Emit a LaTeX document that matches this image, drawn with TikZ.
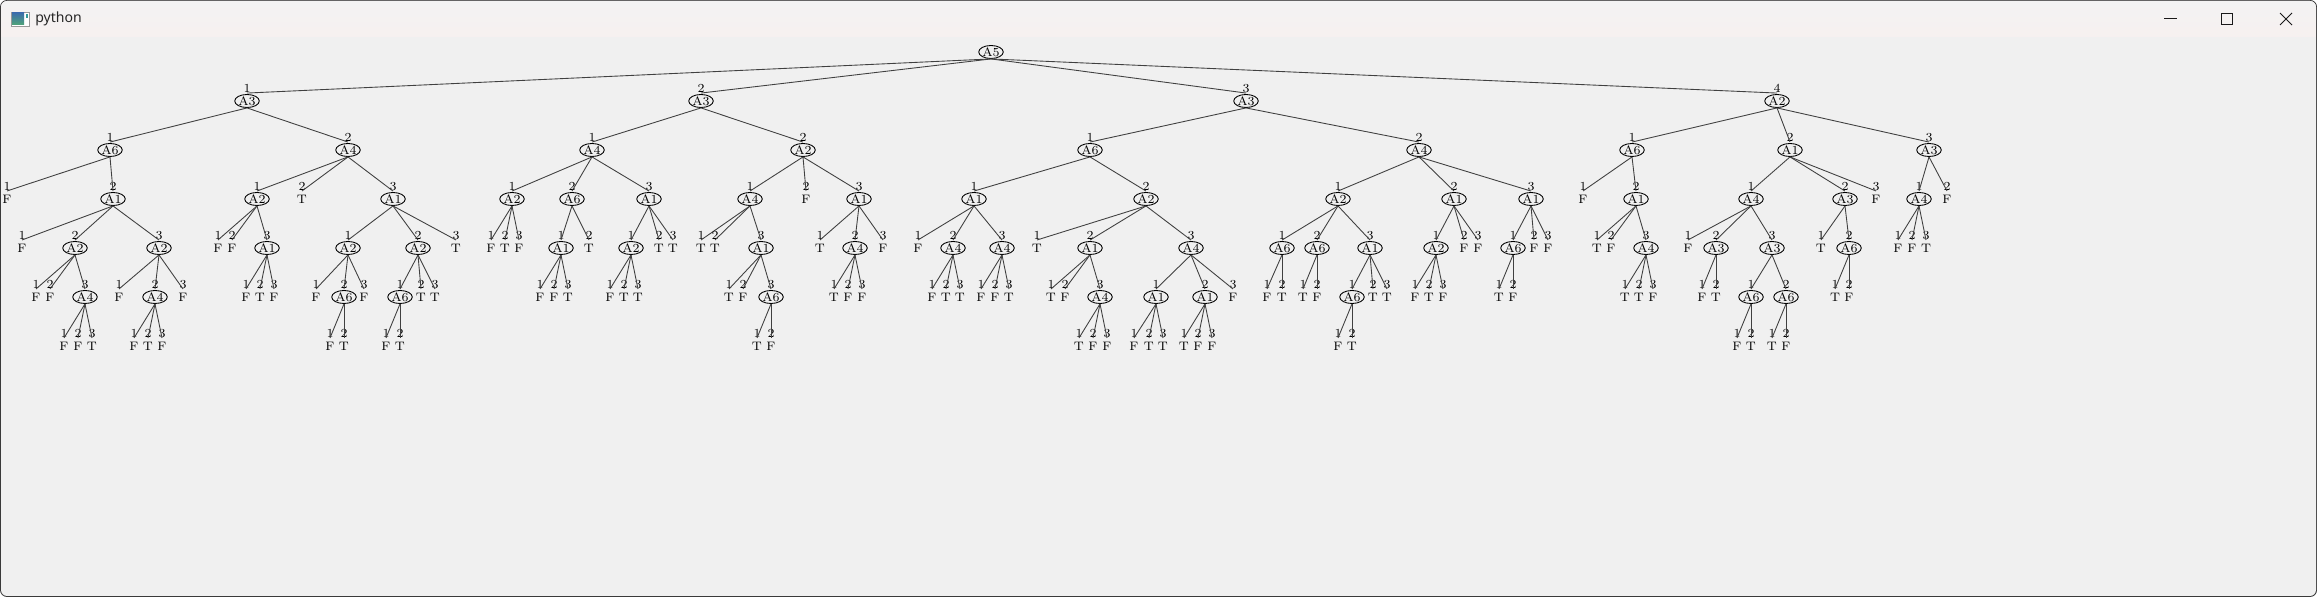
\documentclass[tikz,border=0pt]{standalone}
\usepackage{fontspec}
\newfontfamily\winfont{Noto Sans}
\usetikzlibrary{positioning, shapes.geometric}

\definecolor{winbg}{HTML}{F0F0F0}
\definecolor{titletop}{HTML}{F3F3F3}
\definecolor{titlebot}{HTML}{F7F0EF}
\definecolor{frame}{HTML}{3A3A3A}

\begin{document}
\begin{tikzpicture}[x=0.02cm, y=-0.02cm,
  att/.style={draw=black, line width=0.5pt, ellipse, inner sep=0pt,
    minimum width=0.42cm, minimum height=0.26cm, font=\fontsize{7}{8}\selectfont},
  num/.style={inner sep=0pt, font=\fontsize{7}{8}\selectfont},
  val/.style={inner sep=0pt, font=\fontsize{7}{8}\selectfont},
  edge/.style={draw=black!75, line width=0.5pt}]

\useasboundingbox (0,0) rectangle (2317,597);

% window
\fill[frame, rounded corners=4pt] (0,0) rectangle (2317,597);
\fill[winbg, rounded corners=3.5pt] (1,1) rectangle (2316,596);
\shade[top color=titletop, bottom color=titlebot, rounded corners=3.5pt] (1,1) rectangle (2316,42);
\fill[winbg] (1,37) rectangle (2316,42);

\draw[black!40, fill=white, line width=0.4pt] (11,12) rectangle (29,26);
\shade[top color={rgb,255:red,60;green,110;blue,170}, bottom color={rgb,255:red,80;green,165;blue,120}] (12,13) rectangle (24,25);
\fill[teal!80] (26,14) rectangle (27.5,18);
\node[anchor=west, inner sep=0pt, font=\winfont\fontsize{8}{9}\selectfont, text=black!85] (title) at (35,19) {python};

\draw[black!90, line width=0.5pt] (2164,18) -- (2177,18);
\draw[black!90, line width=0.5pt] (2221,13) rectangle (2232,24);
\draw[black!90, line width=0.5pt] (2280,13) -- (2292,25) (2280,25) -- (2292,13);

% tree
\node[att] (R) at (991,52) {A5};

\node[att] (R1) at (247,101) {A3}; \node[num, above=0.02cm of R1] (R1n) {1}; \draw[edge] (R.south) -- (R1n.south);
\node[att] (R11) at (110,150) {A6}; \node[num, above=0.02cm of R11] (R11n) {1}; \draw[edge] (R1.south) -- (R11n.south);
\node[val] (R111) at (7,199) {F}; \node[num, above=0.07cm of R111] (R111n) {1}; \draw[edge] (R11.south) -- (R111n.south);
\node[att] (R112) at (113,199) {A1}; \node[num, above=0.02cm of R112] (R112n) {2}; \draw[edge] (R11.south) -- (R112n.south);
\node[val] (R1121) at (22,248) {F}; \node[num, above=0.07cm of R1121] (R1121n) {1}; \draw[edge] (R112.south) -- (R1121n.south);
\node[att] (R1122) at (75,248) {A2}; \node[num, above=0.02cm of R1122] (R1122n) {2}; \draw[edge] (R112.south) -- (R1122n.south);
\node[val] (R11221) at (36,297) {F}; \node[num, above=0.07cm of R11221] (R11221n) {1}; \draw[edge] (R1122.south) -- (R11221n.south);
\node[val] (R11222) at (50,297) {F}; \node[num, above=0.07cm of R11222] (R11222n) {2}; \draw[edge] (R1122.south) -- (R11222n.south);
\node[att] (R11223) at (85,297) {A4}; \node[num, above=0.02cm of R11223] (R11223n) {3}; \draw[edge] (R1122.south) -- (R11223n.south);
\node[val] (R112231) at (64,346) {F}; \node[num, above=0.07cm of R112231] (R112231n) {1}; \draw[edge] (R11223.south) -- (R112231n.south);
\node[val] (R112232) at (78,346) {F}; \node[num, above=0.07cm of R112232] (R112232n) {2}; \draw[edge] (R11223.south) -- (R112232n.south);
\node[val] (R112233) at (92,346) {T}; \node[num, above=0.07cm of R112233] (R112233n) {3}; \draw[edge] (R11223.south) -- (R112233n.south);
\node[att] (R1123) at (159,248) {A2}; \node[num, above=0.02cm of R1123] (R1123n) {3}; \draw[edge] (R112.south) -- (R1123n.south);
\node[val] (R11231) at (119,297) {F}; \node[num, above=0.07cm of R11231] (R11231n) {1}; \draw[edge] (R1123.south) -- (R11231n.south);
\node[att] (R11232) at (155,297) {A4}; \node[num, above=0.02cm of R11232] (R11232n) {2}; \draw[edge] (R1123.south) -- (R11232n.south);
\node[val] (R112321) at (134,346) {F}; \node[num, above=0.07cm of R112321] (R112321n) {1}; \draw[edge] (R11232.south) -- (R112321n.south);
\node[val] (R112322) at (148,346) {T}; \node[num, above=0.07cm of R112322] (R112322n) {2}; \draw[edge] (R11232.south) -- (R112322n.south);
\node[val] (R112323) at (162,346) {F}; \node[num, above=0.07cm of R112323] (R112323n) {3}; \draw[edge] (R11232.south) -- (R112323n.south);
\node[val] (R11233) at (183,297) {F}; \node[num, above=0.07cm of R11233] (R11233n) {3}; \draw[edge] (R1123.south) -- (R11233n.south);
\node[att] (R12) at (348,150) {A4}; \node[num, above=0.02cm of R12] (R12n) {2}; \draw[edge] (R1.south) -- (R12n.south);
\node[att] (R121) at (257,199) {A2}; \node[num, above=0.02cm of R121] (R121n) {1}; \draw[edge] (R12.south) -- (R121n.south);
\node[val] (R1211) at (218,248) {F}; \node[num, above=0.07cm of R1211] (R1211n) {1}; \draw[edge] (R121.south) -- (R1211n.south);
\node[val] (R1212) at (232,248) {F}; \node[num, above=0.07cm of R1212] (R1212n) {2}; \draw[edge] (R121.south) -- (R1212n.south);
\node[att] (R1213) at (267,248) {A1}; \node[num, above=0.02cm of R1213] (R1213n) {3}; \draw[edge] (R121.south) -- (R1213n.south);
\node[val] (R12131) at (246,297) {F}; \node[num, above=0.07cm of R12131] (R12131n) {1}; \draw[edge] (R1213.south) -- (R12131n.south);
\node[val] (R12132) at (260,297) {T}; \node[num, above=0.07cm of R12132] (R12132n) {2}; \draw[edge] (R1213.south) -- (R12132n.south);
\node[val] (R12133) at (274,297) {F}; \node[num, above=0.07cm of R12133] (R12133n) {3}; \draw[edge] (R1213.south) -- (R12133n.south);
\node[val] (R122) at (302,199) {T}; \node[num, above=0.07cm of R122] (R122n) {2}; \draw[edge] (R12.south) -- (R122n.south);
\node[att] (R123) at (393,199) {A1}; \node[num, above=0.02cm of R123] (R123n) {3}; \draw[edge] (R12.south) -- (R123n.south);
\node[att] (R1231) at (348,248) {A2}; \node[num, above=0.02cm of R1231] (R1231n) {1}; \draw[edge] (R123.south) -- (R1231n.south);
\node[val] (R12311) at (316,297) {F}; \node[num, above=0.07cm of R12311] (R12311n) {1}; \draw[edge] (R1231.south) -- (R12311n.south);
\node[att] (R12312) at (344,297) {A6}; \node[num, above=0.02cm of R12312] (R12312n) {2}; \draw[edge] (R1231.south) -- (R12312n.south);
\node[val] (R123121) at (330,346) {F}; \node[num, above=0.07cm of R123121] (R123121n) {1}; \draw[edge] (R12312.south) -- (R123121n.south);
\node[val] (R123122) at (344,346) {T}; \node[num, above=0.07cm of R123122] (R123122n) {2}; \draw[edge] (R12312.south) -- (R123122n.south);
\node[val] (R12313) at (364,297) {F}; \node[num, above=0.07cm of R12313] (R12313n) {3}; \draw[edge] (R1231.south) -- (R12313n.south);
\node[att] (R1232) at (418,248) {A2}; \node[num, above=0.02cm of R1232] (R1232n) {2}; \draw[edge] (R123.south) -- (R1232n.south);
\node[att] (R12321) at (400,297) {A6}; \node[num, above=0.02cm of R12321] (R12321n) {1}; \draw[edge] (R1232.south) -- (R12321n.south);
\node[val] (R123211) at (386,346) {F}; \node[num, above=0.07cm of R123211] (R123211n) {1}; \draw[edge] (R12321.south) -- (R123211n.south);
\node[val] (R123212) at (400,346) {T}; \node[num, above=0.07cm of R123212] (R123212n) {2}; \draw[edge] (R12321.south) -- (R123212n.south);
\node[val] (R12322) at (421,297) {T}; \node[num, above=0.07cm of R12322] (R12322n) {2}; \draw[edge] (R1232.south) -- (R12322n.south);
\node[val] (R12323) at (435,297) {T}; \node[num, above=0.07cm of R12323] (R12323n) {3}; \draw[edge] (R1232.south) -- (R12323n.south);
\node[val] (R1233) at (456,248) {T}; \node[num, above=0.07cm of R1233] (R1233n) {3}; \draw[edge] (R123.south) -- (R1233n.south);

\node[att] (R2) at (701,101) {A3}; \node[num, above=0.02cm of R2] (R2n) {2}; \draw[edge] (R.south) -- (R2n.south);
\node[att] (R21) at (592,150) {A4}; \node[num, above=0.02cm of R21] (R21n) {1}; \draw[edge] (R2.south) -- (R21n.south);
\node[att] (R211) at (512,199) {A2}; \node[num, above=0.02cm of R211] (R211n) {1}; \draw[edge] (R21.south) -- (R211n.south);
\node[val] (R2111) at (491,248) {F}; \node[num, above=0.07cm of R2111] (R2111n) {1}; \draw[edge] (R211.south) -- (R2111n.south);
\node[val] (R2112) at (505,248) {T}; \node[num, above=0.07cm of R2112] (R2112n) {2}; \draw[edge] (R211.south) -- (R2112n.south);
\node[val] (R2113) at (519,248) {F}; \node[num, above=0.07cm of R2113] (R2113n) {3}; \draw[edge] (R211.south) -- (R2113n.south);
\node[att] (R212) at (572,199) {A6}; \node[num, above=0.02cm of R212] (R212n) {2}; \draw[edge] (R21.south) -- (R212n.south);
\node[att] (R2121) at (561,248) {A1}; \node[num, above=0.02cm of R2121] (R2121n) {1}; \draw[edge] (R212.south) -- (R2121n.south);
\node[val] (R21211) at (540,297) {F}; \node[num, above=0.07cm of R21211] (R21211n) {1}; \draw[edge] (R2121.south) -- (R21211n.south);
\node[val] (R21212) at (554,297) {F}; \node[num, above=0.07cm of R21212] (R21212n) {2}; \draw[edge] (R2121.south) -- (R21212n.south);
\node[val] (R21213) at (568,297) {T}; \node[num, above=0.07cm of R21213] (R21213n) {3}; \draw[edge] (R2121.south) -- (R21213n.south);
\node[val] (R2122) at (589,248) {T}; \node[num, above=0.07cm of R2122] (R2122n) {2}; \draw[edge] (R212.south) -- (R2122n.south);
\node[att] (R213) at (649,199) {A1}; \node[num, above=0.02cm of R213] (R213n) {3}; \draw[edge] (R21.south) -- (R213n.south);
\node[att] (R2131) at (631,248) {A2}; \node[num, above=0.02cm of R2131] (R2131n) {1}; \draw[edge] (R213.south) -- (R2131n.south);
\node[val] (R21311) at (610,297) {F}; \node[num, above=0.07cm of R21311] (R21311n) {1}; \draw[edge] (R2131.south) -- (R21311n.south);
\node[val] (R21312) at (624,297) {T}; \node[num, above=0.07cm of R21312] (R21312n) {2}; \draw[edge] (R2131.south) -- (R21312n.south);
\node[val] (R21313) at (638,297) {T}; \node[num, above=0.07cm of R21313] (R21313n) {3}; \draw[edge] (R2131.south) -- (R21313n.south);
\node[val] (R2132) at (659,248) {T}; \node[num, above=0.07cm of R2132] (R2132n) {2}; \draw[edge] (R213.south) -- (R2132n.south);
\node[val] (R2133) at (673,248) {T}; \node[num, above=0.07cm of R2133] (R2133n) {3}; \draw[edge] (R213.south) -- (R2133n.south);
\node[att] (R22) at (803,150) {A2}; \node[num, above=0.02cm of R22] (R22n) {2}; \draw[edge] (R2.south) -- (R22n.south);
\node[att] (R221) at (750,199) {A4}; \node[num, above=0.02cm of R221] (R221n) {1}; \draw[edge] (R22.south) -- (R221n.south);
\node[val] (R2211) at (701,248) {T}; \node[num, above=0.07cm of R2211] (R2211n) {1}; \draw[edge] (R221.south) -- (R2211n.south);
\node[val] (R2212) at (715,248) {T}; \node[num, above=0.07cm of R2212] (R2212n) {2}; \draw[edge] (R221.south) -- (R2212n.south);
\node[att] (R2213) at (761,248) {A1}; \node[num, above=0.02cm of R2213] (R2213n) {3}; \draw[edge] (R221.south) -- (R2213n.south);
\node[val] (R22131) at (729,297) {T}; \node[num, above=0.07cm of R22131] (R22131n) {1}; \draw[edge] (R2213.south) -- (R22131n.south);
\node[val] (R22132) at (743,297) {F}; \node[num, above=0.07cm of R22132] (R22132n) {2}; \draw[edge] (R2213.south) -- (R22132n.south);
\node[att] (R22133) at (771,297) {A6}; \node[num, above=0.02cm of R22133] (R22133n) {3}; \draw[edge] (R2213.south) -- (R22133n.south);
\node[val] (R221331) at (757,346) {T}; \node[num, above=0.07cm of R221331] (R221331n) {1}; \draw[edge] (R22133.south) -- (R221331n.south);
\node[val] (R221332) at (771,346) {F}; \node[num, above=0.07cm of R221332] (R221332n) {2}; \draw[edge] (R22133.south) -- (R221332n.south);
\node[val] (R222) at (806,199) {F}; \node[num, above=0.07cm of R222] (R222n) {2}; \draw[edge] (R22.south) -- (R222n.south);
\node[att] (R223) at (859,199) {A1}; \node[num, above=0.02cm of R223] (R223n) {3}; \draw[edge] (R22.south) -- (R223n.south);
\node[val] (R2231) at (820,248) {T}; \node[num, above=0.07cm of R2231] (R2231n) {1}; \draw[edge] (R223.south) -- (R2231n.south);
\node[att] (R2232) at (855,248) {A4}; \node[num, above=0.02cm of R2232] (R2232n) {2}; \draw[edge] (R223.south) -- (R2232n.south);
\node[val] (R22321) at (834,297) {T}; \node[num, above=0.07cm of R22321] (R22321n) {1}; \draw[edge] (R2232.south) -- (R22321n.south);
\node[val] (R22322) at (848,297) {F}; \node[num, above=0.07cm of R22322] (R22322n) {2}; \draw[edge] (R2232.south) -- (R22322n.south);
\node[val] (R22323) at (862,297) {F}; \node[num, above=0.07cm of R22323] (R22323n) {3}; \draw[edge] (R2232.south) -- (R22323n.south);
\node[val] (R2233) at (883,248) {F}; \node[num, above=0.07cm of R2233] (R2233n) {3}; \draw[edge] (R223.south) -- (R2233n.south);

\node[att] (R3) at (1246,101) {A3}; \node[num, above=0.02cm of R3] (R3n) {3}; \draw[edge] (R.south) -- (R3n.south);
\node[att] (R31) at (1090,150) {A6}; \node[num, above=0.02cm of R31] (R31n) {1}; \draw[edge] (R3.south) -- (R31n.south);
\node[att] (R311) at (974,199) {A1}; \node[num, above=0.02cm of R311] (R311n) {1}; \draw[edge] (R31.south) -- (R311n.south);
\node[val] (R3111) at (918,248) {F}; \node[num, above=0.07cm of R3111] (R3111n) {1}; \draw[edge] (R311.south) -- (R3111n.south);
\node[att] (R3112) at (953,248) {A4}; \node[num, above=0.02cm of R3112] (R3112n) {2}; \draw[edge] (R311.south) -- (R3112n.south);
\node[val] (R31121) at (932,297) {F}; \node[num, above=0.07cm of R31121] (R31121n) {1}; \draw[edge] (R3112.south) -- (R31121n.south);
\node[val] (R31122) at (946,297) {T}; \node[num, above=0.07cm of R31122] (R31122n) {2}; \draw[edge] (R3112.south) -- (R31122n.south);
\node[val] (R31123) at (960,297) {T}; \node[num, above=0.07cm of R31123] (R31123n) {3}; \draw[edge] (R3112.south) -- (R31123n.south);
\node[att] (R3113) at (1002,248) {A4}; \node[num, above=0.02cm of R3113] (R3113n) {3}; \draw[edge] (R311.south) -- (R3113n.south);
\node[val] (R31131) at (981,297) {F}; \node[num, above=0.07cm of R31131] (R31131n) {1}; \draw[edge] (R3113.south) -- (R31131n.south);
\node[val] (R31132) at (995,297) {F}; \node[num, above=0.07cm of R31132] (R31132n) {2}; \draw[edge] (R3113.south) -- (R31132n.south);
\node[val] (R31133) at (1009,297) {T}; \node[num, above=0.07cm of R31133] (R31133n) {3}; \draw[edge] (R3113.south) -- (R31133n.south);
\node[att] (R312) at (1146,199) {A2}; \node[num, above=0.02cm of R312] (R312n) {2}; \draw[edge] (R31.south) -- (R312n.south);
\node[val] (R3121) at (1037,248) {T}; \node[num, above=0.07cm of R3121] (R3121n) {1}; \draw[edge] (R312.south) -- (R3121n.south);
\node[att] (R3122) at (1090,248) {A1}; \node[num, above=0.02cm of R3122] (R3122n) {2}; \draw[edge] (R312.south) -- (R3122n.south);
\node[val] (R31221) at (1051,297) {T}; \node[num, above=0.07cm of R31221] (R31221n) {1}; \draw[edge] (R3122.south) -- (R31221n.south);
\node[val] (R31222) at (1065,297) {F}; \node[num, above=0.07cm of R31222] (R31222n) {2}; \draw[edge] (R3122.south) -- (R31222n.south);
\node[att] (R31223) at (1100,297) {A4}; \node[num, above=0.02cm of R31223] (R31223n) {3}; \draw[edge] (R3122.south) -- (R31223n.south);
\node[val] (R312231) at (1079,346) {T}; \node[num, above=0.07cm of R312231] (R312231n) {1}; \draw[edge] (R31223.south) -- (R312231n.south);
\node[val] (R312232) at (1093,346) {F}; \node[num, above=0.07cm of R312232] (R312232n) {2}; \draw[edge] (R31223.south) -- (R312232n.south);
\node[val] (R312233) at (1107,346) {F}; \node[num, above=0.07cm of R312233] (R312233n) {3}; \draw[edge] (R31223.south) -- (R312233n.south);
\node[att] (R3123) at (1191,248) {A4}; \node[num, above=0.02cm of R3123] (R3123n) {3}; \draw[edge] (R312.south) -- (R3123n.south);
\node[att] (R31231) at (1156,297) {A1}; \node[num, above=0.02cm of R31231] (R31231n) {1}; \draw[edge] (R3123.south) -- (R31231n.south);
\node[val] (R312311) at (1134,346) {F}; \node[num, above=0.07cm of R312311] (R312311n) {1}; \draw[edge] (R31231.south) -- (R312311n.south);
\node[val] (R312312) at (1149,346) {T}; \node[num, above=0.07cm of R312312] (R312312n) {2}; \draw[edge] (R31231.south) -- (R312312n.south);
\node[val] (R312313) at (1163,346) {T}; \node[num, above=0.07cm of R312313] (R312313n) {3}; \draw[edge] (R31231.south) -- (R312313n.south);
\node[att] (R31232) at (1205,297) {A1}; \node[num, above=0.02cm of R31232] (R31232n) {2}; \draw[edge] (R3123.south) -- (R31232n.south);
\node[val] (R312321) at (1184,346) {T}; \node[num, above=0.07cm of R312321] (R312321n) {1}; \draw[edge] (R31232.south) -- (R312321n.south);
\node[val] (R312322) at (1198,346) {F}; \node[num, above=0.07cm of R312322] (R312322n) {2}; \draw[edge] (R31232.south) -- (R312322n.south);
\node[val] (R312323) at (1212,346) {F}; \node[num, above=0.07cm of R312323] (R312323n) {3}; \draw[edge] (R31232.south) -- (R312323n.south);
\node[val] (R31233) at (1233,297) {F}; \node[num, above=0.07cm of R31233] (R31233n) {3}; \draw[edge] (R3123.south) -- (R31233n.south);
\node[att] (R32) at (1419,150) {A4}; \node[num, above=0.02cm of R32] (R32n) {2}; \draw[edge] (R3.south) -- (R32n.south);
\node[att] (R321) at (1338,199) {A2}; \node[num, above=0.02cm of R321] (R321n) {1}; \draw[edge] (R32.south) -- (R321n.south);
\node[att] (R3211) at (1282,248) {A6}; \node[num, above=0.02cm of R3211] (R3211n) {1}; \draw[edge] (R321.south) -- (R3211n.south);
\node[val] (R32111) at (1267,297) {F}; \node[num, above=0.07cm of R32111] (R32111n) {1}; \draw[edge] (R3211.south) -- (R32111n.south);
\node[val] (R32112) at (1282,297) {T}; \node[num, above=0.07cm of R32112] (R32112n) {2}; \draw[edge] (R3211.south) -- (R32112n.south);
\node[att] (R3212) at (1317,248) {A6}; \node[num, above=0.02cm of R3212] (R3212n) {2}; \draw[edge] (R321.south) -- (R3212n.south);
\node[val] (R32121) at (1303,297) {T}; \node[num, above=0.07cm of R32121] (R32121n) {1}; \draw[edge] (R3212.south) -- (R32121n.south);
\node[val] (R32122) at (1317,297) {F}; \node[num, above=0.07cm of R32122] (R32122n) {2}; \draw[edge] (R3212.south) -- (R32122n.south);
\node[att] (R3213) at (1370,248) {A1}; \node[num, above=0.02cm of R3213] (R3213n) {3}; \draw[edge] (R321.south) -- (R3213n.south);
\node[att] (R32131) at (1352,297) {A6}; \node[num, above=0.02cm of R32131] (R32131n) {1}; \draw[edge] (R3213.south) -- (R32131n.south);
\node[val] (R321311) at (1338,346) {F}; \node[num, above=0.07cm of R321311] (R321311n) {1}; \draw[edge] (R32131.south) -- (R321311n.south);
\node[val] (R321312) at (1352,346) {T}; \node[num, above=0.07cm of R321312] (R321312n) {2}; \draw[edge] (R32131.south) -- (R321312n.south);
\node[val] (R32132) at (1373,297) {T}; \node[num, above=0.07cm of R32132] (R32132n) {2}; \draw[edge] (R3213.south) -- (R32132n.south);
\node[val] (R32133) at (1387,297) {T}; \node[num, above=0.07cm of R32133] (R32133n) {3}; \draw[edge] (R3213.south) -- (R32133n.south);
\node[att] (R322) at (1454,199) {A1}; \node[num, above=0.02cm of R322] (R322n) {2}; \draw[edge] (R32.south) -- (R322n.south);
\node[att] (R3221) at (1436,248) {A2}; \node[num, above=0.02cm of R3221] (R3221n) {1}; \draw[edge] (R322.south) -- (R3221n.south);
\node[val] (R32211) at (1415,297) {F}; \node[num, above=0.07cm of R32211] (R32211n) {1}; \draw[edge] (R3221.south) -- (R32211n.south);
\node[val] (R32212) at (1429,297) {T}; \node[num, above=0.07cm of R32212] (R32212n) {2}; \draw[edge] (R3221.south) -- (R32212n.south);
\node[val] (R32213) at (1443,297) {F}; \node[num, above=0.07cm of R32213] (R32213n) {3}; \draw[edge] (R3221.south) -- (R32213n.south);
\node[val] (R3222) at (1464,248) {F}; \node[num, above=0.07cm of R3222] (R3222n) {2}; \draw[edge] (R322.south) -- (R3222n.south);
\node[val] (R3223) at (1478,248) {F}; \node[num, above=0.07cm of R3223] (R3223n) {3}; \draw[edge] (R322.south) -- (R3223n.south);
\node[att] (R323) at (1531,199) {A1}; \node[num, above=0.02cm of R323] (R323n) {3}; \draw[edge] (R32.south) -- (R323n.south);
\node[att] (R3231) at (1513,248) {A6}; \node[num, above=0.02cm of R3231] (R3231n) {1}; \draw[edge] (R323.south) -- (R3231n.south);
\node[val] (R32311) at (1499,297) {T}; \node[num, above=0.07cm of R32311] (R32311n) {1}; \draw[edge] (R3231.south) -- (R32311n.south);
\node[val] (R32312) at (1513,297) {F}; \node[num, above=0.07cm of R32312] (R32312n) {2}; \draw[edge] (R3231.south) -- (R32312n.south);
\node[val] (R3232) at (1534,248) {F}; \node[num, above=0.07cm of R3232] (R3232n) {2}; \draw[edge] (R323.south) -- (R3232n.south);
\node[val] (R3233) at (1548,248) {F}; \node[num, above=0.07cm of R3233] (R3233n) {3}; \draw[edge] (R323.south) -- (R3233n.south);

\node[att] (R4) at (1777,101) {A2}; \node[num, above=0.02cm of R4] (R4n) {4}; \draw[edge] (R.south) -- (R4n.south);
\node[att] (R41) at (1632,150) {A6}; \node[num, above=0.02cm of R41] (R41n) {1}; \draw[edge] (R4.south) -- (R41n.south);
\node[val] (R411) at (1583,199) {F}; \node[num, above=0.07cm of R411] (R411n) {1}; \draw[edge] (R41.south) -- (R411n.south);
\node[att] (R412) at (1636,199) {A1}; \node[num, above=0.02cm of R412] (R412n) {2}; \draw[edge] (R41.south) -- (R412n.south);
\node[val] (R4121) at (1597,248) {T}; \node[num, above=0.07cm of R4121] (R4121n) {1}; \draw[edge] (R412.south) -- (R4121n.south);
\node[val] (R4122) at (1611,248) {F}; \node[num, above=0.07cm of R4122] (R4122n) {2}; \draw[edge] (R412.south) -- (R4122n.south);
\node[att] (R4123) at (1646,248) {A4}; \node[num, above=0.02cm of R4123] (R4123n) {3}; \draw[edge] (R412.south) -- (R4123n.south);
\node[val] (R41231) at (1625,297) {T}; \node[num, above=0.07cm of R41231] (R41231n) {1}; \draw[edge] (R4123.south) -- (R41231n.south);
\node[val] (R41232) at (1639,297) {T}; \node[num, above=0.07cm of R41232] (R41232n) {2}; \draw[edge] (R4123.south) -- (R41232n.south);
\node[val] (R41233) at (1653,297) {F}; \node[num, above=0.07cm of R41233] (R41233n) {3}; \draw[edge] (R4123.south) -- (R41233n.south);
\node[att] (R42) at (1790,150) {A1}; \node[num, above=0.02cm of R42] (R42n) {2}; \draw[edge] (R4.south) -- (R42n.south);
\node[att] (R421) at (1751,199) {A4}; \node[num, above=0.02cm of R421] (R421n) {1}; \draw[edge] (R42.south) -- (R421n.south);
\node[val] (R4211) at (1688,248) {F}; \node[num, above=0.07cm of R4211] (R4211n) {1}; \draw[edge] (R421.south) -- (R4211n.south);
\node[att] (R4212) at (1716,248) {A3}; \node[num, above=0.02cm of R4212] (R4212n) {2}; \draw[edge] (R421.south) -- (R4212n.south);
\node[val] (R42121) at (1702,297) {F}; \node[num, above=0.07cm of R42121] (R42121n) {1}; \draw[edge] (R4212.south) -- (R42121n.south);
\node[val] (R42122) at (1716,297) {T}; \node[num, above=0.07cm of R42122] (R42122n) {2}; \draw[edge] (R4212.south) -- (R42122n.south);
\node[att] (R4213) at (1772,248) {A3}; \node[num, above=0.02cm of R4213] (R4213n) {3}; \draw[edge] (R421.south) -- (R4213n.south);
\node[att] (R42131) at (1751,297) {A6}; \node[num, above=0.02cm of R42131] (R42131n) {1}; \draw[edge] (R4213.south) -- (R42131n.south);
\node[val] (R421311) at (1737,346) {F}; \node[num, above=0.07cm of R421311] (R421311n) {1}; \draw[edge] (R42131.south) -- (R421311n.south);
\node[val] (R421312) at (1751,346) {T}; \node[num, above=0.07cm of R421312] (R421312n) {2}; \draw[edge] (R42131.south) -- (R421312n.south);
\node[att] (R42132) at (1786,297) {A6}; \node[num, above=0.02cm of R42132] (R42132n) {2}; \draw[edge] (R4213.south) -- (R42132n.south);
\node[val] (R421321) at (1772,346) {T}; \node[num, above=0.07cm of R421321] (R421321n) {1}; \draw[edge] (R42132.south) -- (R421321n.south);
\node[val] (R421322) at (1786,346) {F}; \node[num, above=0.07cm of R421322] (R421322n) {2}; \draw[edge] (R42132.south) -- (R421322n.south);
\node[att] (R422) at (1845,199) {A3}; \node[num, above=0.02cm of R422] (R422n) {2}; \draw[edge] (R42.south) -- (R422n.south);
\node[val] (R4221) at (1821,248) {T}; \node[num, above=0.07cm of R4221] (R4221n) {1}; \draw[edge] (R422.south) -- (R4221n.south);
\node[att] (R4222) at (1849,248) {A6}; \node[num, above=0.02cm of R4222] (R4222n) {2}; \draw[edge] (R422.south) -- (R4222n.south);
\node[val] (R42221) at (1835,297) {T}; \node[num, above=0.07cm of R42221] (R42221n) {1}; \draw[edge] (R4222.south) -- (R42221n.south);
\node[val] (R42222) at (1849,297) {F}; \node[num, above=0.07cm of R42222] (R42222n) {2}; \draw[edge] (R4222.south) -- (R42222n.south);
\node[val] (R423) at (1876,199) {F}; \node[num, above=0.07cm of R423] (R423n) {3}; \draw[edge] (R42.south) -- (R423n.south);
\node[att] (R43) at (1929,150) {A3}; \node[num, above=0.02cm of R43] (R43n) {3}; \draw[edge] (R4.south) -- (R43n.south);
\node[att] (R431) at (1919,199) {A4}; \node[num, above=0.02cm of R431] (R431n) {1}; \draw[edge] (R43.south) -- (R431n.south);
\node[val] (R4311) at (1898,248) {F}; \node[num, above=0.07cm of R4311] (R4311n) {1}; \draw[edge] (R431.south) -- (R4311n.south);
\node[val] (R4312) at (1912,248) {F}; \node[num, above=0.07cm of R4312] (R4312n) {2}; \draw[edge] (R431.south) -- (R4312n.south);
\node[val] (R4313) at (1926,248) {T}; \node[num, above=0.07cm of R4313] (R4313n) {3}; \draw[edge] (R431.south) -- (R4313n.south);
\node[val] (R432) at (1947,199) {F}; \node[num, above=0.07cm of R432] (R432n) {2}; \draw[edge] (R43.south) -- (R432n.south);
\end{tikzpicture}
\end{document}
